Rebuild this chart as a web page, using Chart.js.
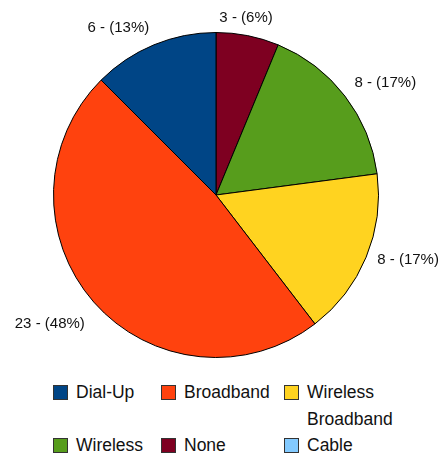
<!DOCTYPE html>
<html>
<head>
<meta charset="utf-8">
<script src="https://cdn.jsdelivr.net/npm/chart.js@4/dist/chart.umd.min.js"></script>
<style>
  html, body { margin: 0; padding: 0; background: #fff; }
  body { width: 440px; height: 460px; position: relative; overflow: hidden;
         font-family: "Liberation Sans", Arial, sans-serif; }
  #wrap { position: absolute; left: 0; top: 0; width: 440px; height: 370px; }
  #legend { position: absolute; left: 53px; top: 379px;
            display: grid; grid-template-columns: 108px 123px 134px;
            font-size: 17.5px; line-height: 26.5px; color: #111; }
  .item { display: flex; align-items: flex-start; }
  .sw { flex: 0 0 auto; width: 13px; height: 13px; border: 1px solid #333;
        margin-top: 6px; margin-right: 8px; }
</style>
</head>
<body>
<div id="wrap"><canvas id="c"></canvas></div>
<div id="legend"></div>
<script>
// Connection types, in legend order
const categories = ['Dial-Up', 'Broadband', 'Wireless Broadband', 'Wireless', 'None', 'Cable'];
const counts     = [6, 23, 8, 8, 3, 0];
const colors     = ['#004586', '#ff420e', '#ffd320', '#579d1c', '#7e0021', '#83caff'];

const total = counts.reduce((a, b) => a + b, 0);

// Slices run clockwise from 12 o'clock in reverse legend order
const pieLabels = categories.slice().reverse();
const pieData   = counts.slice().reverse();
const pieColors = colors.slice().reverse();

// Draws "value - (pct%)" just outside each non-empty slice
const outsideLabels = {
  id: 'outsideLabels',
  afterDatasetsDraw(chart) {
    const ctx = chart.ctx;
    const meta = chart.getDatasetMeta(0);
    const size = 15;
    ctx.save();
    ctx.font = size + 'px "Liberation Sans", Arial, sans-serif';
    ctx.fillStyle = '#111';
    ctx.textBaseline = 'alphabetic';
    meta.data.forEach((arc, i) => {
      const v = pieData[i];
      if (!v) return;
      const p = arc.getProps(['x', 'y', 'startAngle', 'endAngle', 'outerRadius'], true);
      const mid = (p.startAngle + p.endAngle) / 2;
      const r = p.outerRadius + 12;
      const ax = p.x + Math.cos(mid) * r;
      const ay = p.y + Math.sin(mid) * r;
      const s = Math.cos(mid);   // horizontal direction
      const c = Math.sin(mid);   // vertical direction
      ctx.textAlign = s > 0.2 ? 'left' : (s < -0.2 ? 'right' : 'center');
      // upper labels sit above the anchor, steep lower ones below it
      let dy;
      if (c < -0.3) dy = -7.5;
      else if (c < 0.5) dy = -3;
      else dy = 12.5;
      const dx = ctx.textAlign === 'center' ? -4 : 0;
      const pct = Math.round(v / total * 100);
      // dy moves the visual centre of the digits; convert to a baseline
      ctx.fillText(v + ' - (' + pct + '%)', ax + dx, ay + dy + size * 0.36);
    });
    ctx.restore();
  }
};

new Chart(document.getElementById('c'), {
  type: 'pie',
  data: {
    labels: pieLabels,
    datasets: [{
      data: pieData,
      backgroundColor: pieColors,
      borderColor: '#000',
      borderWidth: 1
    }]
  },
  options: {
    responsive: true,
    maintainAspectRatio: false,
    animation: false,
    events: [],
    layout: { padding: { left: 53, right: 61, top: 32, bottom: 12 } },
    plugins: { legend: { display: false }, tooltip: { enabled: false } }
  },
  plugins: [outsideLabels]
});

// Legend grid
const legend = document.getElementById('legend');
categories.forEach((name, i) => {
  const item = document.createElement('div');
  item.className = 'item';
  const sw = document.createElement('span');
  sw.className = 'sw';
  sw.style.background = colors[i];
  const t = document.createElement('span');
  t.textContent = name;
  item.appendChild(sw);
  item.appendChild(t);
  legend.appendChild(item);
});
</script>
</body>
</html>
